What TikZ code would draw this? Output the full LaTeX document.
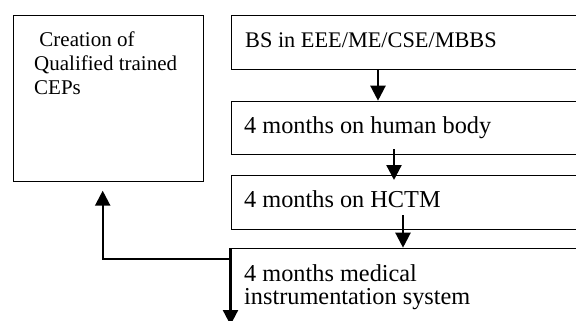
\documentclass[tikz,border=0pt]{standalone}
\usepackage{fontspec}
\setmainfont{Liberation Serif}
\usetikzlibrary{arrows.meta}
\begin{document}
\begin{tikzpicture}[x=1pt,y=-1pt,
  box/.style={draw=black,line width=1.2pt,rectangle,inner sep=0pt,anchor=north west},
  txt/.style={anchor=base west,inner sep=0pt,align=left},
  arr/.style={line width=2.3pt,-{Triangle[width=15pt,length=15pt]}}]
\useasboundingbox (0,0) rectangle (576,321);
\clip (0,0) rectangle (576,321);
% left box
\node[box,minimum width=190pt,minimum height=166pt] (L) at (12.7,15) {};
\node[txt,font=\fontsize{21}{24.2}\selectfont] (Lt) at (34,95) {\ Creation of\\Qualified trained\\CEPs};
% right boxes
\node[box,minimum width=400pt,minimum height=54.3pt] (B1) at (230.5,15) {};
\node[box,minimum width=400pt,minimum height=53.3pt] (B2) at (230.5,100.7) {};
\node[box,minimum width=400pt,minimum height=54pt] (B3) at (230.5,174.5) {};
\node[box,minimum width=400pt,minimum height=120pt] (B4) at (230.5,248) {};
\node[txt,font=\fontsize{22.3}{24}\selectfont] (T1) at (245,47.5) {BS in EEE/ME/CSE/MBBS};
\node[txt,font=\fontsize{24.3}{24}\selectfont] (T2) at (244,133) {4 months on human body};
\node[txt,font=\fontsize{24.3}{24}\selectfont] (T3) at (244,207.5) {4 months on HCTM};
\node[txt,font=\fontsize{24.3}{23.7}\selectfont] (T4) at (244,304.7) {4 months medical\\instrumentation system};
% arrow coordinates
\coordinate (a1s) at (378,69.3);  \coordinate (a1e) at (378,100.7);
\coordinate (a2s) at (394,149); \coordinate (a2e) at (394,180);
\coordinate (a3s) at (403,215); \coordinate (a3e) at (403,247.7);
\coordinate (dn) at (230.5,325);
\coordinate (elb) at (230.5,258.7);
\coordinate (up) at (102.7,190.7);
\draw[arr] (a1s) -- (a1e);
\draw[arr] (a2s) -- (a2e);
\draw[arr] (a3s) -- (a3e);
\draw[arr] (B4.north west) -- (dn);
\draw[arr] (elb) -| (up);
\end{tikzpicture}
\end{document}
